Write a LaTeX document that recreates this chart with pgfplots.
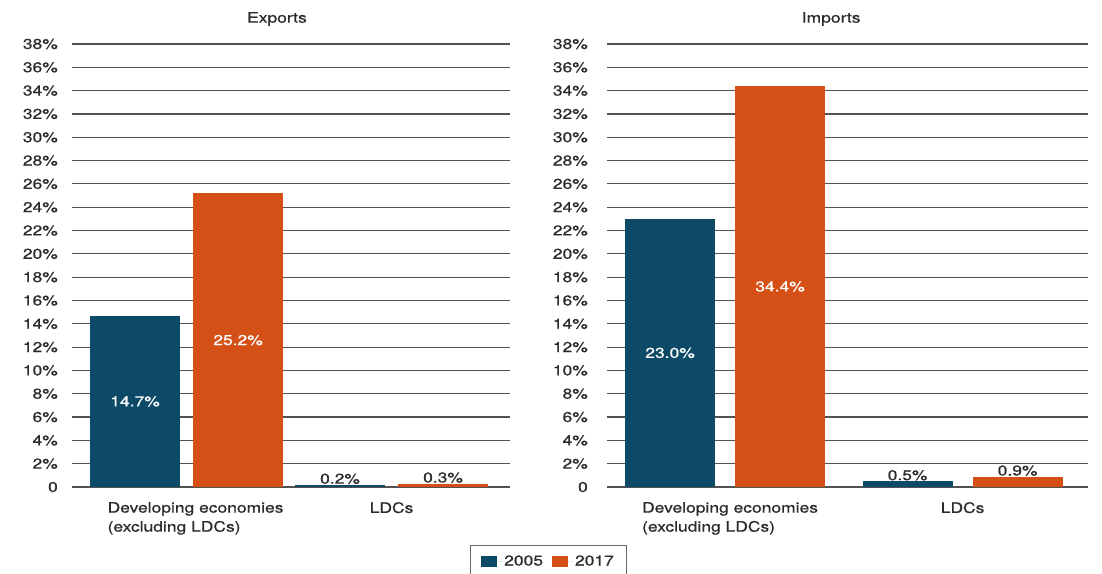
\documentclass[border=0pt]{standalone}
\usepackage{pgfplots}
\pgfplotsset{compat=1.18}
\usepackage{fontspec}
\setmainfont{TeX Gyre Heros}[FakeStretch=1.22, FakeBold=0.6]
\newcommand\fs{\fontsize{14.3}{19}\selectfont}
\definecolor{cblue}{HTML}{0C4A68}
\definecolor{corange}{HTML}{D55016}
\definecolor{ctext}{HTML}{2B2B2B}
\pgfplotsset{
  panel/.style={
    scale only axis, height=443pt, ymin=0, ymax=38,
    ytick={0,2,...,38},
    yticklabels={0,2\%,4\%,6\%,8\%,10\%,12\%,14\%,16\%,18\%,20\%,22\%,24\%,26\%,28\%,30\%,32\%,34\%,36\%,38\%},
    xtick={0,1},
    axis line style={draw=none},
    major tick length=0pt,
    ymajorgrids, major grid style={black!68, line width=1.2pt},
    every tick label/.append style={font=\fs, text=ctext},
    xticklabel style={align=left, anchor=north, inner sep=0pt, yshift=-15pt},
    title style={font=\fs, text=ctext, anchor=center},
    ybar, bar width=90pt,
    clip=false,
  },
  inlab/.style={
    nodes near coords={\pgfmathprintnumber[fixed,fixed zerofill,precision=1,assume math mode=true]{\pgfplotspointmeta}\%},
    visualization depends on=y \as \rawy,
    every node near coord/.append style={font=\fs, text=white, anchor=center, shift={(axis direction cs:0,-\rawy/2)}},
  },
  uplab/.style={
    nodes near coords={\pgfmathprintnumber[fixed,fixed zerofill,precision=1,assume math mode=true]{\pgfplotspointmeta}\%},
    every node near coord/.append style={font=\fs, text=ctext, anchor=south, inner sep=0.5pt},
  },
}
\begin{document}
\begin{tikzpicture}
\path[use as bounding box] (0,0) rectangle (1102pt,573pt);
% Exports
\begin{axis}[panel, at={(72pt,86pt)}, anchor=south west, width=438pt,
  xmin=-0.559, xmax=1.578,
  xticklabels={{\hspace*{18pt}Developing economies\\\hspace*{18pt}(excluding LDCs)},LDCs},
  yticklabel style={anchor=east, inner sep=0pt, xshift=-14pt},
  title=Exports, title style={at={(0.468,1)}, yshift=19pt}]
\addplot[fill=cblue, draw=none, bar shift=-51.5pt, inlab] coordinates {(0,14.7)};
\addplot[fill=corange, draw=none, bar shift=51.5pt, inlab] coordinates {(0,25.2)};
\addplot[fill=cblue, draw=none, bar shift=-51.5pt, uplab] coordinates {(1,0.2)};
\addplot[fill=corange, draw=none, bar shift=51.5pt, uplab] coordinates {(1,0.3)};
\end{axis}
% Imports
\begin{axis}[panel, at={(607pt,86pt)}, anchor=south west, width=481pt,
  xmin=-0.497, xmax=1.528,
  xticklabels={{\hspace*{10pt}Developing economies\\\hspace*{10pt}(excluding LDCs)},LDCs},
  yticklabel style={anchor=east, inner sep=0pt, xshift=-19pt},
  title=Imports, title style={at={(0.466,1)}, yshift=19pt},
  legend style={at={(-0.1216,-0.1309)}, anchor=north, draw=black!60, line width=0.8pt,
    font=\fs, text=ctext, inner xsep=11pt, inner ysep=8pt,
    /tikz/every even column/.append style={column sep=7pt}},
  legend columns=2,
  legend image code/.code={\fill[#1, draw=none] (0pt,-5.5pt) rectangle (16pt,5.5pt); \path (0pt,0pt) -- (21pt,0pt);}]
\addplot[fill=cblue, draw=none, bar shift=-55pt, inlab] coordinates {(0,23.0)};
\addplot[fill=corange, draw=none, bar shift=55pt, inlab] coordinates {(0,34.4)};
\addplot[fill=cblue, draw=none, bar shift=-55pt, uplab, forget plot] coordinates {(1,0.5)};
\addplot[fill=corange, draw=none, bar shift=55pt, uplab, forget plot] coordinates {(1,0.9)};
\legend{2005,2017}
\end{axis}
\end{tikzpicture}
\end{document}
